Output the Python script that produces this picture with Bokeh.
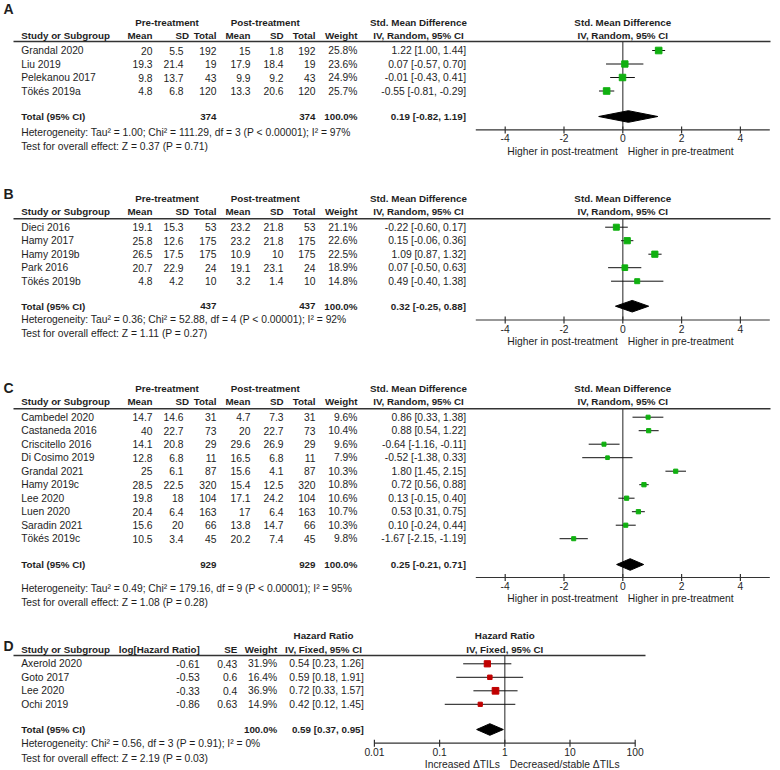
import numpy as np
from bokeh.plotting import figure
from bokeh.models import Range1d, LogScale
from bokeh.embed import file_html
from bokeh.resources import INLINE
from bokeh.core.properties import value

FONT = "Liberation Sans"
TXT = "#1e1e1e"
GREEN = "#10b010"
RED = "#c00000"
FS = "10.3px"
FSB = "9.8px"

# ---------------- Data ----------------
# Panel A
a_study = ["Grandal 2020", "Liu 2019", "Pelekanou 2017", "Tökés 2019a"]
a_pre_mean = [20, 19.3, 9.8, 4.8]
a_pre_sd = [5.5, 21.4, 13.7, 6.8]
a_pre_n = [192, 19, 43, 120]
a_post_mean = [15, 17.9, 9.9, 13.3]
a_post_sd = [1.8, 18.4, 9.2, 20.6]
a_post_n = [192, 19, 43, 120]
a_weight = [25.8, 23.6, 24.9, 25.7]
a_smd = [1.22, 0.07, -0.01, -0.55]
a_lo = [1.00, -0.57, -0.43, -0.81]
a_hi = [1.44, 0.70, 0.41, -0.29]
a_total = [0.19, -0.82, 1.19]
a_het = "Heterogeneity: Tau\u00b2 = 1.00; Chi\u00b2 = 111.29, df = 3 (P < 0.00001); I\u00b2 = 97%"
a_test = "Test for overall effect: Z = 0.37 (P = 0.71)"

# Panel B
b_study = ["Dieci 2016", "Hamy 2017", "Hamy 2019b", "Park 2016", "Tökés 2019b"]
b_pre_mean = [19.1, 25.8, 26.5, 20.7, 4.8]
b_pre_sd = [15.3, 12.6, 17.5, 22.9, 4.2]
b_pre_n = [53, 175, 175, 24, 10]
b_post_mean = [23.2, 23.2, 10.9, 19.1, 3.2]
b_post_sd = [21.8, 21.8, 10, 23.1, 1.4]
b_post_n = [53, 175, 175, 24, 10]
b_weight = [21.1, 22.6, 22.5, 18.9, 14.8]
b_smd = [-0.22, 0.15, 1.09, 0.07, 0.49]
b_lo = [-0.60, -0.06, 0.87, -0.50, -0.40]
b_hi = [0.17, 0.36, 1.32, 0.63, 1.38]
b_total = [0.32, -0.25, 0.88]
b_het = "Heterogeneity: Tau\u00b2 = 0.36; Chi\u00b2 = 52.88, df = 4 (P < 0.00001); I\u00b2 = 92%"
b_test = "Test for overall effect: Z = 1.11 (P = 0.27)"

# Panel C
c_study = ["Cambedel 2020", "Castaneda 2016", "Criscitello 2016", "Di Cosimo 2019",
           "Grandal 2021", "Hamy 2019c", "Lee 2020", "Luen 2020", "Saradin 2021", "Tökés 2019c"]
c_pre_mean = [14.7, 40, 14.1, 12.8, 25, 28.5, 19.8, 20.4, 15.6, 10.5]
c_pre_sd = [14.6, 22.7, 20.8, 6.8, 6.1, 22.5, 18, 6.4, 20, 3.4]
c_pre_n = [31, 73, 29, 11, 87, 320, 104, 163, 66, 45]
c_post_mean = [4.7, 20, 29.6, 16.5, 15.6, 15.4, 17.1, 17, 13.8, 20.2]
c_post_sd = [7.3, 22.7, 26.9, 6.8, 4.1, 12.5, 24.2, 6.4, 14.7, 7.4]
c_post_n = [31, 73, 29, 11, 87, 320, 104, 163, 66, 45]
c_weight = [9.6, 10.4, 9.6, 7.9, 10.3, 10.8, 10.6, 10.7, 10.3, 9.8]
c_smd = [0.86, 0.88, -0.64, -0.52, 1.80, 0.72, 0.13, 0.53, 0.10, -1.67]
c_lo = [0.33, 0.54, -1.16, -1.38, 1.45, 0.56, -0.15, 0.31, -0.24, -2.15]
c_hi = [1.38, 1.22, -0.11, 0.33, 2.15, 0.88, 0.40, 0.75, 0.44, -1.19]
c_total = [0.25, -0.21, 0.71]
c_het = "Heterogeneity: Tau\u00b2 = 0.49; Chi\u00b2 = 179.16, df = 9 (P < 0.00001); I\u00b2 = 95%"
c_test = "Test for overall effect: Z = 1.08 (P = 0.28)"

# Panel D
d_study = ["Axerold 2020", "Goto 2017", "Lee 2020", "Ochi 2019"]
d_loghr = [-0.61, -0.53, -0.33, -0.86]
d_se = [0.43, 0.6, 0.4, 0.63]
d_weight = [31.9, 16.4, 36.9, 14.9]
d_hr = [0.54, 0.59, 0.72, 0.42]
d_lo = [0.23, 0.18, 0.33, 0.12]
d_hi = [1.26, 1.91, 1.57, 1.45]
d_total = [0.59, 0.37, 0.95]
d_het = "Heterogeneity: Chi\u00b2 = 0.56, df = 3 (P = 0.91); I\u00b2 = 0%"
d_test = "Test for overall effect: Z = 2.19 (P = 0.03)"

smd_ticks = [-4, -2, 0, 2, 4]
smd_lim = [-5, 5]
smd_left_label = "Higher in post-treatment"
smd_right_label = "Higher in pre-treatment"
hr_ticks = [0.01, 0.1, 1, 10, 100]
hr_lim = [0.01, 100]
hr_left_label = "Increased \u0394TILs"
hr_right_label = "Decreased/stable \u0394TILs"

# ---------------- Layout (picture pixel coordinates) ----------------
SMD_ZERO, SMD_UNIT = 622.3, 29.4
HR_ONE, HR_DEC = 504.3, 65.2
W, H = 780, 770
X0, X1, Y0, Y1 = 0, W, 0, H
ROW = 13.5

p = figure(width=W, height=H, x_range=Range1d(X0, X1), y_range=Range1d(Y1, Y0),
           output_backend="svg", toolbar_location=None, min_border=0,
           x_axis_type=None, y_axis_type=None, outline_line_color=None)
p.grid.visible = False
p.extra_x_ranges = {
    "smd": Range1d((X0 - SMD_ZERO) / SMD_UNIT, (X1 - SMD_ZERO) / SMD_UNIT),
    "hr": Range1d(10 ** ((X0 - HR_ONE) / HR_DEC), 10 ** ((X1 - HR_ONE) / HR_DEC)),
}
p.extra_x_scales = {"hr": LogScale()}


def txt(xs, ys, texts, align="left", bold=False, size=None, rng=None, xoff=0, color=TXT):
    kw = {}
    if rng is not None:
        kw["x_range_name"] = rng
    if size is None:
        size = FSB if bold else FS
    p.text(x=list(xs), y=list(ys), text=list(texts), text_align=align, text_baseline="middle",
           text_font=value(FONT), text_font_size=size,
           text_font_style="bold" if bold else "normal", text_color=color, x_offset=xoff, **kw)


def g(v):
    return f"{v:g}"


def ci(e, l, h):
    return f"{e:.2f} [{l:.2f}, {h:.2f}]"


def forest(L, rng, est, lo, hi, weight, k, color, total, ticks, lim, ref, left_lab, right_lab,
           head1, head2, line_right):
    n = len(est)
    ys = L["row0"] + ROW * np.arange(n)
    txt([ref], [L["h1"]], [head1], align="center", bold=True, rng=rng)
    txt([ref], [L["h2"]], [head2], align="center", bold=True, rng=rng)
    p.segment(x0=[ref], y0=[L["ul"]], x1=[ref], y1=[L["axis"]], x_range_name=rng,
              line_color="#555555", line_width=1.3)
    p.segment(x0=lo, y0=ys, x1=hi, y1=ys, x_range_name=rng, line_color="#111111", line_width=1)
    p.scatter(x=est, y=ys, size=list(k * np.sqrt(np.array(weight))), marker="square",
              fill_color=color, line_color=color, x_range_name=rng)
    te, tl, th = total
    ty = L["total"]
    p.patch(x=[tl, te, th, te], y=[ty, ty - 5.8, ty, ty + 5.8], x_range_name=rng,
            fill_color="black", line_color="black")
    ay = L["axis"]
    p.segment(x0=[lim[0]], y0=[ay], x1=[lim[1]], y1=[ay], x_range_name=rng,
              line_color="#333333", line_width=1.2)
    p.segment(x0=ticks, y0=[ay - 3.4] * len(ticks), x1=ticks, y1=[ay + 3.6] * len(ticks),
              x_range_name=rng, line_color="#333333", line_width=1.2)
    txt(ticks, [L["ticklab"]] * len(ticks), [g(t) for t in ticks], align="center", rng=rng)
    txt([ref], [L["axlab"]], [left_lab], align="right", rng=rng, xoff=-5)
    txt([ref], [L["axlab"]], [right_lab], align="left", rng=rng, xoff=5)
    p.segment(x0=[13], y0=[L["ul"]], x1=[line_right], y1=[L["ul"]], line_color="#333333",
              line_width=1.4)
    return ys


COL = dict(study=20.7, pre_mean=152, pre_sd=183, pre_sd_h=188.5, pre_n=216, post_mean=250,
           post_sd=283, post_n=315, weight=357, ci=465.5, ci_h=418, pre_h=166.5, post_h=264.7)


def smd_panel(L, letter, study, pre_mean, pre_sd, pre_n, post_mean, post_sd, post_n, weight,
              est, lo, hi, total, het, test):
    ys = forest(L, "smd", est, lo, hi, weight, 1.3, GREEN, total, smd_ticks, smd_lim, 0,
                smd_left_label, smd_right_label, "Std. Mean Difference", "IV, Random, 95% CI", 770)
    txt([3], [L["letter"]], [letter], bold=True, size="14px")
    txt([COL["pre_h"], COL["post_h"]], [L["h1"]] * 2, ["Pre-treatment", "Post-treatment"],
        align="center", bold=True)
    txt([COL["ci_h"]], [L["h1"]], ["Std. Mean Difference"], align="center", bold=True)
    txt([COL["study"]], [L["h2"]], ["Study or Subgroup"], bold=True)
    hx = [COL["pre_mean"], COL["pre_sd_h"], COL["pre_n"], COL["post_mean"], COL["post_sd"],
          COL["post_n"], COL["weight"]]
    txt(hx, [L["h2"]] * len(hx), ["Mean", "SD", "Total", "Mean", "SD", "Total", "Weight"],
        align="right", bold=True)
    txt([COL["ci_h"]], [L["h2"]], ["IV, Random, 95% CI"], align="center", bold=True)
    n = len(study)
    txt([COL["study"]] * n, ys, study)
    for key, vals, fmt in [("pre_mean", pre_mean, g), ("pre_sd", pre_sd, g), ("pre_n", pre_n, g),
                           ("post_mean", post_mean, g), ("post_sd", post_sd, g),
                           ("post_n", post_n, g), ("weight", weight, lambda w: f"{w:.1f}%")]:
        txt([COL[key]] * n, ys, [fmt(v) for v in vals], align="right")
    txt([COL["ci"]] * n, ys, [ci(e, l, h) for e, l, h in zip(est, lo, hi)], align="right")
    ty = L["total"]
    txt([COL["study"]], [ty], ["Total (95% CI)"], bold=True)
    txt([COL["pre_n"], COL["post_n"], COL["weight"], COL["ci"]], [ty] * 4,
        [g(sum(pre_n)), g(sum(post_n)), "100.0%", ci(*total)], align="right", bold=True)
    txt([COL["study"]], [L["het"]], [het])
    txt([COL["study"]], [L["test"]], [test])


LA = dict(letter=8, h1=21.5, h2=34.5, ul=41, row0=50, total=116, het=131.5, test=145.5,
          axis=129.3, ticklab=137.5, axlab=150.5)
LB = dict(letter=193.3, h1=197.7, h2=211, ul=218.3, row0=226.7, total=305.7, het=319.3,
          test=333.3, axis=319.5, ticklab=328, axlab=340.5)
LC = dict(letter=387.7, h1=387.7, h2=401, ul=408.3, row0=416.7, total=564, het=588.3,
          test=601.7, axis=577, ticklab=585.5, axlab=598.3)
LD = dict(letter=645, h1=635, h2=649, ul=655, row0=663.3, total=729, het=743.3, test=757.7,
          axis=742.7, ticklab=751.7, axlab=764.3)

smd_panel(LA, "A", a_study, a_pre_mean, a_pre_sd, a_pre_n, a_post_mean, a_post_sd, a_post_n,
          a_weight, a_smd, a_lo, a_hi, a_total, a_het, a_test)
smd_panel(LB, "B", b_study, b_pre_mean, b_pre_sd, b_pre_n, b_post_mean, b_post_sd, b_post_n,
          b_weight, b_smd, b_lo, b_hi, b_total, b_het, b_test)
smd_panel(LC, "C", c_study, c_pre_mean, c_pre_sd, c_pre_n, c_post_mean, c_post_sd, c_post_n,
          c_weight, c_smd, c_lo, c_hi, c_total, c_het, c_test)

# Panel D
DCOL = dict(study=20.7, loghr=199.3, se=236.7, weight=276.7, ci=363.3, ci_h=323)
L = LD
ys = forest(L, "hr", d_hr, d_lo, d_hi, d_weight, 1.1, RED, d_total, hr_ticks, hr_lim, 1,
            hr_left_label, hr_right_label, "Hazard Ratio", "IV, Fixed, 95% CI", 645)
txt([3], [L["letter"]], ["D"], bold=True, size="14px")
txt([DCOL["ci_h"]], [L["h1"]], ["Hazard Ratio"], align="center", bold=True)
txt([DCOL["study"]], [L["h2"]], ["Study or Subgroup"], bold=True)
txt([DCOL["loghr"], DCOL["se"], DCOL["weight"]], [L["h2"]] * 3,
    ["log[Hazard Ratio]", "SE", "Weight"], align="right", bold=True)
txt([DCOL["ci_h"]], [L["h2"]], ["IV, Fixed, 95% CI"], align="center", bold=True)
n = len(d_study)
txt([DCOL["study"]] * n, ys, d_study)
txt([DCOL["loghr"]] * n, ys, [g(v) for v in d_loghr], align="right")
txt([DCOL["se"]] * n, ys, [g(v) for v in d_se], align="right")
txt([DCOL["weight"]] * n, ys, [f"{w:.1f}%" for w in d_weight], align="right")
txt([DCOL["ci"]] * n, ys, [ci(e, l, h) for e, l, h in zip(d_hr, d_lo, d_hi)], align="right")
ty = L["total"]
txt([DCOL["study"]], [ty], ["Total (95% CI)"], bold=True)
txt([DCOL["weight"], DCOL["ci"]], [ty] * 2, ["100.0%", ci(*d_total)], align="right", bold=True)
txt([DCOL["study"]], [L["het"]], [d_het])
txt([DCOL["study"]], [L["test"]], [d_test])

open("out.html", "w").write(file_html(p, INLINE))
